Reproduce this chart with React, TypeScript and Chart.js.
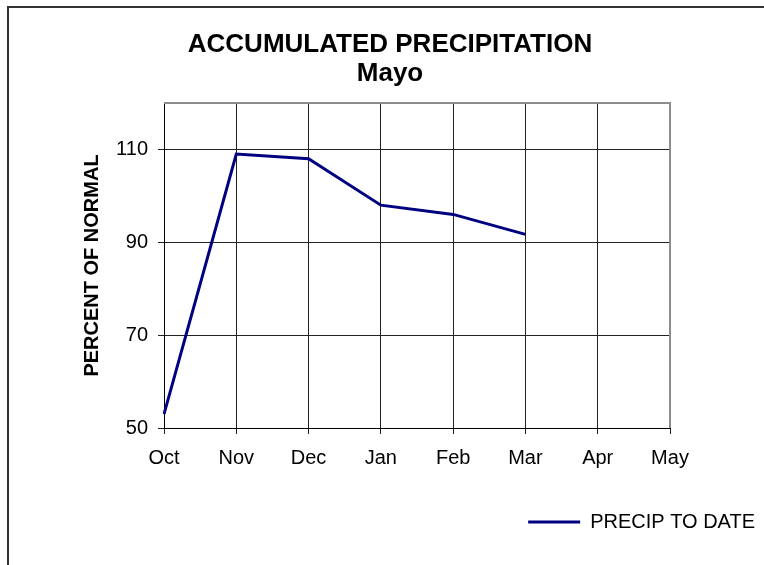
import React, { useEffect, useRef } from "react";
import { Chart, registerables } from "chart.js";

Chart.register(...registerables);

const titleText = "ACCUMULATED PRECIPITATION";
const subtitleText = "Mayo";
const yAxisTitle = "PERCENT OF NORMAL";
const seriesName = "PRECIP TO DATE";
const months = ["Oct", "Nov", "Dec", "Jan", "Feb", "Mar", "Apr", "May"];
const precipToDate = [53, 109, 108, 98, 96, 91.7];
const yTicks = [50, 70, 90, 110];
const yMin = 50;
const yMax = 120;

const FONT = '"Liberation Sans", Arial, Helvetica, sans-serif';

const plotFrame = {
  id: "plotFrame",
  beforeDatasetsDraw(chart: any) {
    const { ctx, chartArea } = chart;
    const { left, right, top, bottom } = chartArea;
    ctx.save();
    ctx.strokeStyle = "#8c8c8c";
    ctx.lineWidth = 2;
    ctx.beginPath();
    ctx.moveTo(left, top);
    ctx.lineTo(right, top);
    ctx.lineTo(right, bottom);
    ctx.stroke();
    ctx.restore();
  },
};

export default function App() {
  const canvasRef = useRef<HTMLCanvasElement | null>(null);

  useEffect(() => {
    const canvas = canvasRef.current;
    if (!canvas) return;
    Chart.defaults.font.family = FONT;
    Chart.defaults.color = "#000";
    const chart = new Chart(canvas, {
      type: "line",
      data: {
        labels: months,
        datasets: [
          {
            label: seriesName,
            data: precipToDate,
            borderColor: "#000080",
            backgroundColor: "#000080",
            borderWidth: 3,
            pointRadius: 0,
            tension: 0,
            fill: false,
            yAxisID: "y",
          },
        ],
      },
      options: {
        responsive: false,
        animation: false,
        devicePixelRatio: 1,
        events: [],
        layout: { padding: { left: 16, right: 0, top: 0, bottom: 23 } },
        plugins: {
          title: {
            display: true,
            text: titleText,
            color: "#000",
            font: { size: 26, weight: "bold", family: FONT, lineHeight: 1 },
            padding: { top: 32, bottom: 0 },
          },
          subtitle: {
            display: true,
            text: subtitleText,
            color: "#000",
            font: { size: 26, weight: "bold", family: FONT, lineHeight: 1 },
            padding: { top: 3, bottom: 16 },
          },
          legend: {
            display: true,
            position: "bottom",
            align: "end",
            labels: {
              color: "#000",
              font: { size: 20, family: FONT },
              usePointStyle: true,
              pointStyle: "line",
              pointStyleWidth: 52,
              padding: 9,
            },
          },
          tooltip: { enabled: false },
        },
        scales: {
          x: {
            type: "category",
            offset: false,
            grid: { color: "#222", lineWidth: 1, tickLength: 6, drawTicks: true },
            border: { display: true, color: "#000", width: 1 },
            ticks: {
              color: "#000",
              font: { size: 20, family: FONT },
              padding: 12,
              autoSkip: false,
              maxRotation: 0,
              minRotation: 0,
            },
            afterFit: (s: any) => {
              s.height = 75;
            },
          },
          y: {
            type: "linear",
            position: "left",
            min: yMin,
            max: yMax,
            grid: { color: "#222", lineWidth: 1, tickLength: 6, drawTicks: true },
            border: { display: true, color: "#000", width: 1 },
            ticks: {
              color: "#000",
              font: { size: 20, family: FONT },
              padding: 10,
            },
            afterBuildTicks: (axis: any) => {
              axis.ticks = yTicks.map((v) => ({ value: v }));
            },
            title: {
              display: true,
              text: yAxisTitle,
              color: "#000",
              font: { size: 20, weight: "bold", family: FONT, lineHeight: 1.2 },
              padding: { top: 64.5, bottom: 0 },
            },
            afterFit: (s: any) => {
              s.width = 148;
            },
          },
          y2: {
            type: "linear",
            position: "right",
            display: true,
            grid: { display: false, drawTicks: false },
            border: { display: false },
            ticks: { display: false },
            afterFit: (s: any) => {
              s.width = 94;
            },
          },
        },
      },
      plugins: [plotFrame],
    } as any);
    return () => {
      chart.destroy();
    };
  }, []);

  return (
    <div
      style={{
        position: "fixed",
        left: 0,
        top: 0,
        width: 764,
        height: 565,
        overflow: "hidden",
        background: "#fff",
      }}
    >
      <div
        style={{
          position: "absolute",
          left: 7,
          top: 6,
          width: 900,
          height: 700,
          border: "2px solid #333",
          boxSizing: "border-box",
        }}
      />
      <canvas
        ref={canvasRef}
        width={764}
        height={565}
        style={{ position: "absolute", left: 0, top: 0, width: 764, height: 565 }}
      />
    </div>
  );
}
